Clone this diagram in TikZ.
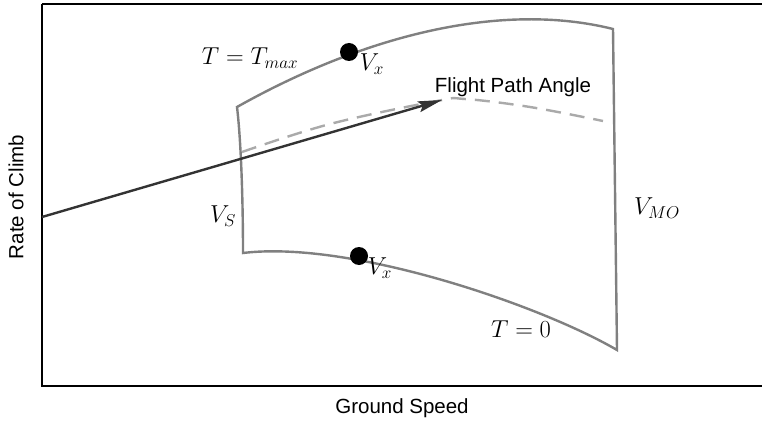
\documentclass[tikz,border=0pt]{standalone}
\usepackage{fix-cm}
\usepackage{fontspec}
\newfontfamily\labfont{Liberation Sans}
\usetikzlibrary{arrows.meta}
\definecolor{edgegray}{HTML}{808080}
\definecolor{dashgray}{HTML}{AAAAAA}
\definecolor{arrowdark}{HTML}{333333}
\tikzset{
  envelope/.style={draw=edgegray, line width=2.4pt, line join=miter},
  fpa/.style={draw=dashgray, line width=2.4pt, dash pattern=on 15pt off 9pt},
  gamma/.style={draw=arrowdark, line width=2.4pt, -{Stealth[length=24pt,width=11pt,inset=4pt]}},
  frame/.style={draw=black, line width=2.2pt},
  mlab/.style={inner sep=0pt, font=\fontsize{24.5}{28}\selectfont},
  slab/.style={inner sep=0pt, font=\fontsize{20.5}{24}\selectfont\labfont},
  vdot/.style={circle, fill=black, inner sep=0pt, minimum size=18pt}
}
\begin{document}
\begin{tikzpicture}[x=1pt, y=-1pt]
\useasboundingbox (0,0) rectangle (762,422);
\clip (0,0) rectangle (762,422);
\fill[white] (0,0) rectangle (762,422);
% frame (axes box)
\draw[frame] (42,4) -- (780,4);
\draw[frame] (42,4) -- (42,386) -- (780,386);
% flight envelope
\coordinate (tl) at (237,107);
\coordinate (tr) at (613,29);
\coordinate (br) at (617,350);
\coordinate (bl) at (243,253);
\draw[envelope] (tl) .. controls (367,34) and (503,1.5) .. (tr)
  -- (br)
  .. controls (540,305) and (350,240) .. (bl)
  .. controls (243,200) and (241,140) .. (tl) -- cycle;
% dashed flight path curve
\draw[fpa] plot[smooth, tension=0.6] coordinates {(242,152) (330,124) (437,101) (465,99) (530,107) (603,121)};
% flight path angle arrow
\coordinate (gstart) at (42,217);
\coordinate (gend) at (442,100);
\draw[gamma] (gstart) -- (gend);
% Vx points
\node[vdot] (vxtop) at (349,52) {};
\node[vdot] (vxbot) at (359,256) {};
% labels
\node[mlab] (tmax) at (250,58) {$T=T_{max}$};
\node[mlab] (vxtoplab) at (372,64) {$V_x$};
\node[mlab] (vxbotlab) at (380,268) {$V_x$};
\node[mlab] (tzero) at (521,329) {$T=0$};
\node[mlab] (vs) at (223,216) {$V_S$};
\node[mlab] (vmo) at (657,208) {$V_{MO}$};
\node[slab] (fpalab) at (513,87) {Flight Path Angle};
\node[slab, rotate=90] (roc) at (16,197) {Rate of Climb};
\node[slab] (gs) at (402,408) {Ground Speed};
\end{tikzpicture}
\end{document}
